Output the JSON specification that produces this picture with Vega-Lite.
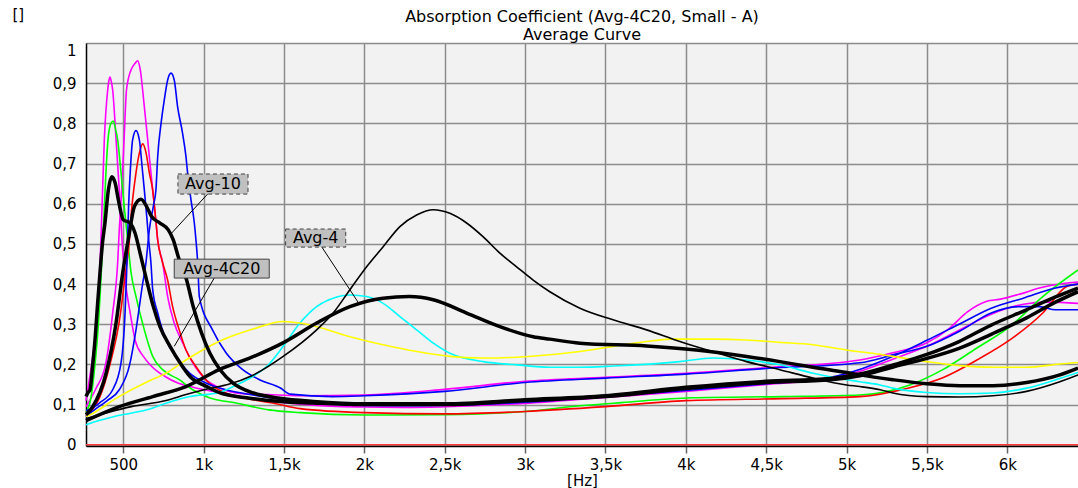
{
"$schema":"https://vega.github.io/schema/vega-lite/v6.json",
"width":992,"height":403,
"autosize":"none",
"padding":{"left":86,"top":43,"right":0,"bottom":42},
"background":"#ffffff",
"config":{"view":{"fill":"#f2f2f2","stroke":null},"font":"DejaVu Sans"},
"title":{"text":["Absorption Coefficient (Avg-4C20, Small - A)","Average Curve"],"fontSize":16,"fontWeight":"normal","font":"DejaVu Sans","color":"#000000","anchor":"middle","lineHeight":18,"offset":4,"dy":40},
"datasets":{
"curves":[
{"s":"M1","f":268,"v":0.11},{"s":"M1","f":288,"v":0.16},{"s":"M1","f":310,"v":0.22},{"s":"M1","f":330,"v":0.286},{"s":"M1","f":351,"v":0.41},{"s":"M1","f":361,"v":0.51},{"s":"M1","f":382,"v":0.76},{"s":"M1","f":403,"v":0.883},{"s":"M1","f":410,"v":0.905},{"s":"M1","f":417,"v":0.915},{"s":"M1","f":425,"v":0.905},{"s":"M1","f":434,"v":0.883},{"s":"M1","f":455,"v":0.76},{"s":"M1","f":475,"v":0.634},{"s":"M1","f":492,"v":0.51},{"s":"M1","f":512,"v":0.41},{"s":"M1","f":543,"v":0.328},{"s":"M1","f":574,"v":0.26},{"s":"M1","f":625,"v":0.22},{"s":"M1","f":677,"v":0.195},{"s":"M1","f":760,"v":0.17},{"s":"M1","f":843,"v":0.153},{"s":"M1","f":946,"v":0.142},{"s":"M1","f":1100,"v":0.13},{"s":"M1","f":1300,"v":0.115},{"s":"M1","f":1500,"v":0.105},{"s":"M1","f":1700,"v":0.098},{"s":"M1","f":2000,"v":0.094},{"s":"M1","f":2300,"v":0.093},{"s":"M1","f":2600,"v":0.096},{"s":"M1","f":3000,"v":0.103},{"s":"M1","f":3500,"v":0.118},{"s":"M1","f":4000,"v":0.133},{"s":"M1","f":4500,"v":0.15},{"s":"M1","f":4900,"v":0.165},{"s":"M1","f":5100,"v":0.185},{"s":"M1","f":5300,"v":0.215},{"s":"M1","f":5500,"v":0.245},{"s":"M1","f":5700,"v":0.285},{"s":"M1","f":5900,"v":0.325},{"s":"M1","f":6100,"v":0.35},{"s":"M1","f":6250,"v":0.355},{"s":"M1","f":6440,"v":0.352},
{"s":"M2","f":268,"v":0.095},{"s":"M2","f":330,"v":0.14},{"s":"M2","f":392,"v":0.204},{"s":"M2","f":434,"v":0.328},{"s":"M2","f":465,"v":0.453},{"s":"M2","f":475,"v":0.535},{"s":"M2","f":490,"v":0.634},{"s":"M2","f":505,"v":0.76},{"s":"M2","f":520,"v":0.883},{"s":"M2","f":548,"v":0.933},{"s":"M2","f":575,"v":0.95},{"s":"M2","f":589,"v":0.956},{"s":"M2","f":605,"v":0.935},{"s":"M2","f":631,"v":0.841},{"s":"M2","f":652,"v":0.759},{"s":"M2","f":662,"v":0.717},{"s":"M2","f":683,"v":0.634},{"s":"M2","f":704,"v":0.552},{"s":"M2","f":714,"v":0.51},{"s":"M2","f":745,"v":0.453},{"s":"M2","f":776,"v":0.369},{"s":"M2","f":817,"v":0.303},{"s":"M2","f":869,"v":0.254},{"s":"M2","f":932,"v":0.204},{"s":"M2","f":1014,"v":0.162},{"s":"M2","f":1097,"v":0.142},{"s":"M2","f":1222,"v":0.128},{"s":"M2","f":1400,"v":0.125},{"s":"M2","f":1600,"v":0.122},{"s":"M2","f":2000,"v":0.124},{"s":"M2","f":2500,"v":0.138},{"s":"M2","f":3000,"v":0.158},{"s":"M2","f":3500,"v":0.168},{"s":"M2","f":4000,"v":0.178},{"s":"M2","f":4500,"v":0.192},{"s":"M2","f":5083,"v":0.211},{"s":"M2","f":5288,"v":0.229},{"s":"M2","f":5500,"v":0.254},{"s":"M2","f":5640,"v":0.29},{"s":"M2","f":5750,"v":0.33},{"s":"M2","f":5873,"v":0.357},{"s":"M2","f":5950,"v":0.362},{"s":"M2","f":6078,"v":0.375},{"s":"M2","f":6200,"v":0.39},{"s":"M2","f":6327,"v":0.4},{"s":"M2","f":6440,"v":0.405},
{"s":"G","f":268,"v":0.08},{"s":"G","f":300,"v":0.12},{"s":"G","f":324,"v":0.2},{"s":"G","f":345,"v":0.3},{"s":"G","f":373,"v":0.51},{"s":"G","f":392,"v":0.677},{"s":"G","f":405,"v":0.76},{"s":"G","f":423,"v":0.8},{"s":"G","f":438,"v":0.806},{"s":"G","f":452,"v":0.785},{"s":"G","f":465,"v":0.759},{"s":"G","f":486,"v":0.677},{"s":"G","f":506,"v":0.593},{"s":"G","f":527,"v":0.51},{"s":"G","f":548,"v":0.43},{"s":"G","f":579,"v":0.369},{"s":"G","f":631,"v":0.286},{"s":"G","f":683,"v":0.22},{"s":"G","f":745,"v":0.187},{"s":"G","f":848,"v":0.162},{"s":"G","f":932,"v":0.137},{"s":"G","f":1035,"v":0.117},{"s":"G","f":1201,"v":0.104},{"s":"G","f":1406,"v":0.087},{"s":"G","f":1600,"v":0.08},{"s":"G","f":2000,"v":0.074},{"s":"G","f":2500,"v":0.075},{"s":"G","f":3000,"v":0.083},{"s":"G","f":3341,"v":0.097},{"s":"G","f":3600,"v":0.105},{"s":"G","f":4040,"v":0.117},{"s":"G","f":4600,"v":0.12},{"s":"G","f":5083,"v":0.124},{"s":"G","f":5394,"v":0.149},{"s":"G","f":5599,"v":0.187},{"s":"G","f":5811,"v":0.241},{"s":"G","f":6016,"v":0.294},{"s":"G","f":6221,"v":0.369},{"s":"G","f":6440,"v":0.435},
{"s":"R","f":268,"v":0.072},{"s":"R","f":355,"v":0.12},{"s":"R","f":417,"v":0.2},{"s":"R","f":480,"v":0.32},{"s":"R","f":511,"v":0.42},{"s":"R","f":538,"v":0.51},{"s":"R","f":548,"v":0.568},{"s":"R","f":558,"v":0.61},{"s":"R","f":579,"v":0.677},{"s":"R","f":600,"v":0.726},{"s":"R","f":621,"v":0.749},{"s":"R","f":642,"v":0.726},{"s":"R","f":662,"v":0.677},{"s":"R","f":683,"v":0.634},{"s":"R","f":704,"v":0.552},{"s":"R","f":714,"v":0.51},{"s":"R","f":740,"v":0.46},{"s":"R","f":776,"v":0.41},{"s":"R","f":807,"v":0.344},{"s":"R","f":848,"v":0.286},{"s":"R","f":890,"v":0.236},{"s":"R","f":952,"v":0.195},{"s":"R","f":1035,"v":0.153},{"s":"R","f":1139,"v":0.129},{"s":"R","f":1305,"v":0.112},{"s":"R","f":1430,"v":0.104},{"s":"R","f":1600,"v":0.09},{"s":"R","f":2000,"v":0.08},{"s":"R","f":2500,"v":0.077},{"s":"R","f":3000,"v":0.083},{"s":"R","f":3500,"v":0.095},{"s":"R","f":4000,"v":0.11},{"s":"R","f":4600,"v":0.115},{"s":"R","f":5083,"v":0.12},{"s":"R","f":5394,"v":0.142},{"s":"R","f":5599,"v":0.167},{"s":"R","f":5811,"v":0.211},{"s":"R","f":6016,"v":0.261},{"s":"R","f":6221,"v":0.328},{"s":"R","f":6370,"v":0.394},{"s":"R","f":6440,"v":0.4},
{"s":"B1","f":268,"v":0.085},{"s":"B1","f":290,"v":0.088},{"s":"B1","f":351,"v":0.104},{"s":"B1","f":434,"v":0.137},{"s":"B1","f":486,"v":0.204},{"s":"B1","f":511,"v":0.328},{"s":"B1","f":520,"v":0.42},{"s":"B1","f":527,"v":0.51},{"s":"B1","f":533,"v":0.593},{"s":"B1","f":543,"v":0.677},{"s":"B1","f":558,"v":0.759},{"s":"B1","f":579,"v":0.782},{"s":"B1","f":600,"v":0.759},{"s":"B1","f":617,"v":0.692},{"s":"B1","f":631,"v":0.634},{"s":"B1","f":646,"v":0.568},{"s":"B1","f":658,"v":0.51},{"s":"B1","f":672,"v":0.453},{"s":"B1","f":683,"v":0.386},{"s":"B1","f":714,"v":0.328},{"s":"B1","f":766,"v":0.261},{"s":"B1","f":828,"v":0.22},{"s":"B1","f":911,"v":0.179},{"s":"B1","f":1014,"v":0.154},{"s":"B1","f":1139,"v":0.137},{"s":"B1","f":1305,"v":0.124},{"s":"B1","f":1500,"v":0.112},{"s":"B1","f":1700,"v":0.104},{"s":"B1","f":2000,"v":0.098},{"s":"B1","f":2300,"v":0.097},{"s":"B1","f":2600,"v":0.099},{"s":"B1","f":3000,"v":0.106},{"s":"B1","f":3500,"v":0.12},{"s":"B1","f":4000,"v":0.135},{"s":"B1","f":4500,"v":0.152},{"s":"B1","f":4900,"v":0.168},{"s":"B1","f":5100,"v":0.19},{"s":"B1","f":5300,"v":0.222},{"s":"B1","f":5500,"v":0.26},{"s":"B1","f":5700,"v":0.3},{"s":"B1","f":5900,"v":0.34},{"s":"B1","f":6100,"v":0.365},{"s":"B1","f":6300,"v":0.39},{"s":"B1","f":6440,"v":0.4},
{"s":"B2","f":268,"v":0.07},{"s":"B2","f":330,"v":0.09},{"s":"B2","f":400,"v":0.11},{"s":"B2","f":475,"v":0.137},{"s":"B2","f":540,"v":0.2},{"s":"B2","f":579,"v":0.286},{"s":"B2","f":620,"v":0.4},{"s":"B2","f":641,"v":0.453},{"s":"B2","f":662,"v":0.535},{"s":"B2","f":690,"v":0.6},{"s":"B2","f":703,"v":0.634},{"s":"B2","f":714,"v":0.717},{"s":"B2","f":735,"v":0.8},{"s":"B2","f":755,"v":0.858},{"s":"B2","f":776,"v":0.908},{"s":"B2","f":797,"v":0.925},{"s":"B2","f":817,"v":0.908},{"s":"B2","f":838,"v":0.841},{"s":"B2","f":869,"v":0.775},{"s":"B2","f":890,"v":0.717},{"s":"B2","f":900,"v":0.677},{"s":"B2","f":921,"v":0.61},{"s":"B2","f":942,"v":0.552},{"s":"B2","f":952,"v":0.51},{"s":"B2","f":963,"v":0.453},{"s":"B2","f":973,"v":0.369},{"s":"B2","f":1055,"v":0.286},{"s":"B2","f":1139,"v":0.229},{"s":"B2","f":1243,"v":0.187},{"s":"B2","f":1347,"v":0.162},{"s":"B2","f":1475,"v":0.142},{"s":"B2","f":1540,"v":0.126},{"s":"B2","f":1800,"v":0.12},{"s":"B2","f":2000,"v":0.122},{"s":"B2","f":2500,"v":0.133},{"s":"B2","f":3000,"v":0.155},{"s":"B2","f":3500,"v":0.166},{"s":"B2","f":4000,"v":0.176},{"s":"B2","f":4500,"v":0.19},{"s":"B2","f":5083,"v":0.204},{"s":"B2","f":5300,"v":0.225},{"s":"B2","f":5500,"v":0.245},{"s":"B2","f":5700,"v":0.282},{"s":"B2","f":5900,"v":0.328},{"s":"B2","f":6078,"v":0.344},{"s":"B2","f":6200,"v":0.344},{"s":"B2","f":6300,"v":0.336},{"s":"B2","f":6440,"v":0.336},
{"s":"C","f":268,"v":0.05},{"s":"C","f":282,"v":0.052},{"s":"C","f":438,"v":0.07},{"s":"C","f":646,"v":0.087},{"s":"C","f":770,"v":0.104},{"s":"C","f":915,"v":0.12},{"s":"C","f":1097,"v":0.13},{"s":"C","f":1200,"v":0.148},{"s":"C","f":1305,"v":0.17},{"s":"C","f":1400,"v":0.198},{"s":"C","f":1495,"v":0.245},{"s":"C","f":1599,"v":0.303},{"s":"C","f":1703,"v":0.344},{"s":"C","f":1806,"v":0.365},{"s":"C","f":1910,"v":0.373},{"s":"C","f":2014,"v":0.369},{"s":"C","f":2117,"v":0.352},{"s":"C","f":2221,"v":0.319},{"s":"C","f":2325,"v":0.286},{"s":"C","f":2429,"v":0.253},{"s":"C","f":2532,"v":0.228},{"s":"C","f":2740,"v":0.207},{"s":"C","f":2947,"v":0.199},{"s":"C","f":3154,"v":0.193},{"s":"C","f":3341,"v":0.193},{"s":"C","f":3547,"v":0.196},{"s":"C","f":3963,"v":0.207},{"s":"C","f":4168,"v":0.216},{"s":"C","f":4378,"v":0.211},{"s":"C","f":4585,"v":0.199},{"s":"C","f":4791,"v":0.178},{"s":"C","f":5000,"v":0.162},{"s":"C","f":5083,"v":0.157},{"s":"C","f":5209,"v":0.149},{"s":"C","f":5288,"v":0.141},{"s":"C","f":5498,"v":0.13},{"s":"C","f":5705,"v":0.127},{"s":"C","f":5911,"v":0.129},{"s":"C","f":6120,"v":0.141},{"s":"C","f":6327,"v":0.165},{"s":"C","f":6440,"v":0.18},
{"s":"Y","f":268,"v":0.07},{"s":"Y","f":280,"v":0.072},{"s":"Y","f":473,"v":0.12},{"s":"Y","f":666,"v":0.16},{"s":"Y","f":766,"v":0.178},{"s":"Y","f":890,"v":0.211},{"s":"Y","f":1095,"v":0.257},{"s":"Y","f":1307,"v":0.288},{"s":"Y","f":1494,"v":0.307},{"s":"Y","f":1599,"v":0.303},{"s":"Y","f":1705,"v":0.294},{"s":"Y","f":1910,"v":0.269},{"s":"Y","f":2116,"v":0.249},{"s":"Y","f":2327,"v":0.232},{"s":"Y","f":2532,"v":0.22},{"s":"Y","f":2738,"v":0.216},{"s":"Y","f":2949,"v":0.218},{"s":"Y","f":3154,"v":0.224},{"s":"Y","f":3341,"v":0.232},{"s":"Y","f":3547,"v":0.245},{"s":"Y","f":3756,"v":0.257},{"s":"Y","f":3901,"v":0.263},{"s":"Y","f":4168,"v":0.263},{"s":"Y","f":4378,"v":0.261},{"s":"Y","f":4585,"v":0.255},{"s":"Y","f":4791,"v":0.249},{"s":"Y","f":5000,"v":0.236},{"s":"Y","f":5209,"v":0.225},{"s":"Y","f":5288,"v":0.22},{"s":"Y","f":5498,"v":0.207},{"s":"Y","f":5705,"v":0.197},{"s":"Y","f":5911,"v":0.193},{"s":"Y","f":6120,"v":0.193},{"s":"Y","f":6327,"v":0.201},{"s":"Y","f":6440,"v":0.205},
{"s":"TK","f":268,"v":0.065},{"s":"TK","f":400,"v":0.08},{"s":"TK","f":550,"v":0.095},{"s":"TK","f":766,"v":0.11},{"s":"TK","f":890,"v":0.125},{"s":"TK","f":1035,"v":0.14},{"s":"TK","f":1150,"v":0.15},{"s":"TK","f":1300,"v":0.172},{"s":"TK","f":1495,"v":0.22},{"s":"TK","f":1703,"v":0.286},{"s":"TK","f":1806,"v":0.328},{"s":"TK","f":1910,"v":0.386},{"s":"TK","f":2014,"v":0.443},{"s":"TK","f":2117,"v":0.493},{"s":"TK","f":2221,"v":0.543},{"s":"TK","f":2325,"v":0.572},{"s":"TK","f":2429,"v":0.585},{"s":"TK","f":2532,"v":0.576},{"s":"TK","f":2636,"v":0.552},{"s":"TK","f":2738,"v":0.518},{"s":"TK","f":2843,"v":0.477},{"s":"TK","f":2947,"v":0.443},{"s":"TK","f":3050,"v":0.41},{"s":"TK","f":3154,"v":0.381},{"s":"TK","f":3341,"v":0.34},{"s":"TK","f":3547,"v":0.311},{"s":"TK","f":3756,"v":0.286},{"s":"TK","f":3963,"v":0.257},{"s":"TK","f":4168,"v":0.232},{"s":"TK","f":4378,"v":0.207},{"s":"TK","f":4585,"v":0.187},{"s":"TK","f":4791,"v":0.166},{"s":"TK","f":5000,"v":0.149},{"s":"TK","f":5083,"v":0.145},{"s":"TK","f":5209,"v":0.137},{"s":"TK","f":5288,"v":0.129},{"s":"TK","f":5498,"v":0.12},{"s":"TK","f":5705,"v":0.119},{"s":"TK","f":5911,"v":0.122},{"s":"TK","f":6120,"v":0.133},{"s":"TK","f":6327,"v":0.157},{"s":"TK","f":6440,"v":0.174},
{"s":"Z","f":268,"v":0},{"s":"Z","f":6440,"v":0},
{"s":"K1","f":268,"v":0.12},{"s":"K1","f":280,"v":0.13},{"s":"K1","f":293,"v":0.137},{"s":"K1","f":310,"v":0.2},{"s":"K1","f":324,"v":0.261},{"s":"K1","f":340,"v":0.35},{"s":"K1","f":355,"v":0.428},{"s":"K1","f":370,"v":0.5},{"s":"K1","f":386,"v":0.552},{"s":"K1","f":407,"v":0.634},{"s":"K1","f":428,"v":0.667},{"s":"K1","f":449,"v":0.652},{"s":"K1","f":469,"v":0.61},{"s":"K1","f":500,"v":0.56},{"s":"K1","f":542,"v":0.552},{"s":"K1","f":573,"v":0.527},{"s":"K1","f":604,"v":0.478},{"s":"K1","f":645,"v":0.41},{"s":"K1","f":687,"v":0.344},{"s":"K1","f":728,"v":0.294},{"s":"K1","f":791,"v":0.245},{"s":"K1","f":853,"v":0.204},{"s":"K1","f":915,"v":0.17},{"s":"K1","f":1019,"v":0.145},{"s":"K1","f":1102,"v":0.129},{"s":"K1","f":1268,"v":0.117},{"s":"K1","f":1475,"v":0.108},{"s":"K1","f":1680,"v":0.104},{"s":"K1","f":2000,"v":0.1},{"s":"K1","f":2500,"v":0.1},{"s":"K1","f":3000,"v":0.11},{"s":"K1","f":3500,"v":0.12},{"s":"K1","f":4000,"v":0.14},{"s":"K1","f":4500,"v":0.155},{"s":"K1","f":4900,"v":0.162},{"s":"K1","f":5083,"v":0.172},{"s":"K1","f":5300,"v":0.195},{"s":"K1","f":5500,"v":0.215},{"s":"K1","f":5700,"v":0.24},{"s":"K1","f":5900,"v":0.275},{"s":"K1","f":6120,"v":0.316},{"s":"K1","f":6300,"v":0.355},{"s":"K1","f":6440,"v":0.381},
{"s":"K2","f":268,"v":0.075},{"s":"K2","f":310,"v":0.095},{"s":"K2","f":393,"v":0.178},{"s":"K2","f":455,"v":0.303},{"s":"K2","f":496,"v":0.427},{"s":"K2","f":538,"v":0.527},{"s":"K2","f":569,"v":0.593},{"s":"K2","f":610,"v":0.611},{"s":"K2","f":645,"v":0.593},{"s":"K2","f":676,"v":0.568},{"s":"K2","f":728,"v":0.552},{"s":"K2","f":780,"v":0.535},{"s":"K2","f":811,"v":0.51},{"s":"K2","f":842,"v":0.468},{"s":"K2","f":894,"v":0.41},{"s":"K2","f":935,"v":0.344},{"s":"K2","f":987,"v":0.278},{"s":"K2","f":1039,"v":0.228},{"s":"K2","f":1102,"v":0.187},{"s":"K2","f":1185,"v":0.153},{"s":"K2","f":1309,"v":0.129},{"s":"K2","f":1475,"v":0.116},{"s":"K2","f":1682,"v":0.108},{"s":"K2","f":2000,"v":0.102},{"s":"K2","f":2500,"v":0.102},{"s":"K2","f":3000,"v":0.112},{"s":"K2","f":3500,"v":0.122},{"s":"K2","f":4000,"v":0.143},{"s":"K2","f":4500,"v":0.158},{"s":"K2","f":4900,"v":0.165},{"s":"K2","f":5083,"v":0.176},{"s":"K2","f":5300,"v":0.2},{"s":"K2","f":5500,"v":0.225},{"s":"K2","f":5700,"v":0.257},{"s":"K2","f":5900,"v":0.298},{"s":"K2","f":6120,"v":0.336},{"s":"K2","f":6300,"v":0.368},{"s":"K2","f":6440,"v":0.39},
{"s":"K3","f":268,"v":0.06},{"s":"K3","f":475,"v":0.095},{"s":"K3","f":683,"v":0.12},{"s":"K3","f":890,"v":0.145},{"s":"K3","f":1097,"v":0.187},{"s":"K3","f":1300,"v":0.218},{"s":"K3","f":1500,"v":0.255},{"s":"K3","f":1703,"v":0.303},{"s":"K3","f":1910,"v":0.344},{"s":"K3","f":2116,"v":0.365},{"s":"K3","f":2280,"v":0.369},{"s":"K3","f":2429,"v":0.361},{"s":"K3","f":2636,"v":0.328},{"s":"K3","f":2843,"v":0.294},{"s":"K3","f":3050,"v":0.269},{"s":"K3","f":3154,"v":0.263},{"s":"K3","f":3341,"v":0.253},{"s":"K3","f":3756,"v":0.246},{"s":"K3","f":4065,"v":0.236},{"s":"K3","f":4378,"v":0.22},{"s":"K3","f":4585,"v":0.207},{"s":"K3","f":4791,"v":0.193},{"s":"K3","f":5000,"v":0.18},{"s":"K3","f":5083,"v":0.174},{"s":"K3","f":5288,"v":0.162},{"s":"K3","f":5498,"v":0.152},{"s":"K3","f":5705,"v":0.147},{"s":"K3","f":5911,"v":0.147},{"s":"K3","f":6120,"v":0.155},{"s":"K3","f":6327,"v":0.174},{"s":"K3","f":6440,"v":0.191}
],
"labels":[
{"name":"Avg-10","f1":840,"f2":1276,"v1":0.624,"v2":0.674,"fc":1058,"vc":0.649,"lf1":1029,"lv1":0.626,"lf2":801,"lv2":0.527,"dashed":"yes"},
{"name":"Avg-4C20","f1":817,"f2":1408,"v1":0.415,"v2":0.462,"fc":1113,"vc":0.4385,"lf1":1066,"lv1":0.415,"lf2":817,"lv2":0.245,"dashed":"no"},
{"name":"Avg-4","f1":1510,"f2":1884,"v1":0.492,"v2":0.537,"fc":1697,"vc":0.5145,"lf1":1734,"lv1":0.493,"lf2":1972,"lv2":0.348,"dashed":"yes"}
]
},
"layer":[
{"data":{"name":"curves"},
 "transform":[{"filter":"indexof(['K1','K2','K3'], datum.s) < 0"}],
 "mark":{"type":"line","strokeWidth":1.6,"strokeJoin":"round","interpolate":"monotone"},
 "encoding":{
  "x":{"field":"f","type":"quantitative","scale":{"domain":[268,6440],"nice":false,"zero":false},
   "axis":{"values":[500,1000,1500,2000,2500,3000,3500,4000,4500,5000,5500,6000],"labelExpr":"datum.value < 1000 ? format(datum.value, 'd') : replace(format(datum.value / 1000, '~g'), '.', ',') + 'k'","title":"[Hz]","titleFont":"DejaVu Sans","titleFontSize":15,"titleFontWeight":"normal","titleColor":"#000000","titleBaseline":"bottom","titleY":42,"labelFont":"DejaVu Sans","labelFontSize":15,"labelColor":"#000000","labelPadding":4,"tickSize":7,"tickColor":"#666666","tickWidth":1.5,"grid":true,"gridColor":"#8c8c8c","gridWidth":1.5,"gridOpacity":1,"domainColor":"#000000","domainWidth":1.5,"labelFlush":false}},
  "y":{"field":"v","type":"quantitative","scale":{"domain":[-0.003,1],"nice":false,"zero":false},
   "axis":{"values":[0,0.1,0.2,0.3,0.4,0.5,0.6,0.7,0.8,0.9,1],"labelExpr":"replace(format(datum.value, '.1~f'), '.', ',')","title":"[]","titleAngle":0,"titleAlign":"left","titleBaseline":"alphabetic","titleX":-74,"titleY":-24,"titleFont":"DejaVu Sans","titleFontSize":15,"titleFontWeight":"normal","titleColor":"#000000","labelFont":"DejaVu Sans","labelFontSize":15,"labelColor":"#000000","labelPadding":10,"ticks":false,"grid":true,"gridColor":"#8c8c8c","gridWidth":1.5,"gridOpacity":1,"domainColor":"#000000","domainWidth":1.5,"labelFlush":true}},
  "color":{"field":"s","type":"nominal","legend":null,
   "scale":{"domain":["M1","M2","G","R","B1","B2","C","Y","TK","Z"],"range":["#ff00ff","#ff00ff","#00ff00","#ff0000","#0000ff","#0000ff","#00ffff","#ffff00","#000000","#ff3b3b"]}}
 }},
{"data":{"name":"curves"},
 "transform":[{"filter":"indexof(['K1','K2','K3'], datum.s) >= 0"}],
 "mark":{"type":"line","strokeWidth":3.5,"color":"#000000","strokeJoin":"round","interpolate":"monotone"},
 "encoding":{"x":{"field":"f","type":"quantitative"},"y":{"field":"v","type":"quantitative"},"detail":{"field":"s","type":"nominal"}}},
{"data":{"name":"labels"},
 "mark":{"type":"rule","color":"#000000","strokeWidth":1},
 "encoding":{"x":{"field":"lf1","type":"quantitative"},"y":{"field":"lv1","type":"quantitative"},"x2":{"field":"lf2"},"y2":{"field":"lv2"}}},
{"data":{"name":"labels"},
 "transform":[{"filter":"datum.dashed == 'yes'"}],
 "mark":{"type":"rect","fill":"#c0c0c0","stroke":"#404040","strokeWidth":1,"strokeDash":[4,3]},
 "encoding":{"x":{"field":"f1","type":"quantitative"},"x2":{"field":"f2"},"y":{"field":"v1","type":"quantitative"},"y2":{"field":"v2"}}},
{"data":{"name":"labels"},
 "transform":[{"filter":"datum.dashed == 'no'"}],
 "mark":{"type":"rect","fill":"#c0c0c0","stroke":"#404040","strokeWidth":1},
 "encoding":{"x":{"field":"f1","type":"quantitative"},"x2":{"field":"f2"},"y":{"field":"v1","type":"quantitative"},"y2":{"field":"v2"}}},
{"data":{"name":"labels"},
 "mark":{"type":"text","font":"DejaVu Sans","fontSize":16,"color":"#000000","align":"center","baseline":"middle"},
 "encoding":{"x":{"field":"fc","type":"quantitative"},"y":{"field":"vc","type":"quantitative"},"text":{"field":"name"}}}
]
}
